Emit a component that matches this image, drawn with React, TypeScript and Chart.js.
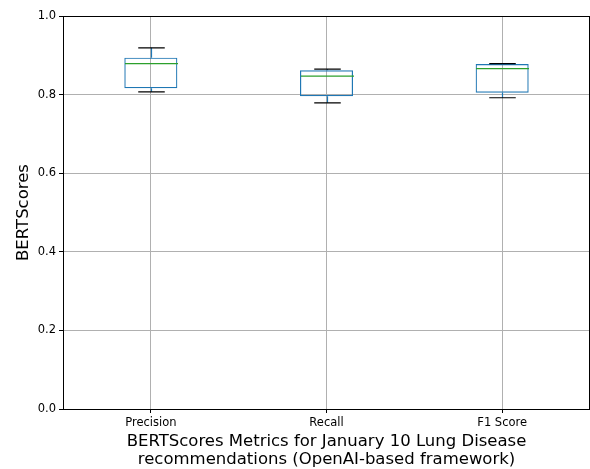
import React, { useEffect, useRef } from "react";
import { Chart, registerables } from "chart.js";

Chart.register(...registerables);

const categories = ["Precision", "Recall", "F1 Score"];
const whiskerLow = [0.807, 0.779, 0.792];
const q1 = [0.816, 0.796, 0.805];
const median = [0.879, 0.847, 0.866];
const q3 = [0.894, 0.862, 0.878];
const whiskerHigh = [0.919, 0.865, 0.879];
const yTicks = [0.0, 0.2, 0.4, 0.6, 0.8, 1.0];

const BLUE = "#1f77b4";
const GREEN = "#2ca02c";
const FONT = "'DejaVu Sans', sans-serif";

const boxPlugin = {
  id: "boxExtras",
  afterDatasetsDraw(chart: any) {
    const { ctx } = chart;
    const xs = chart.scales.x;
    const ys = chart.scales.y;
    const meta = chart.getDatasetMeta(0);
    ctx.save();
    categories.forEach((_, i) => {
      const x = Math.round(xs.getPixelForValue(i)) + 0.5;
      const el: any = meta.data[i];
      const w = el ? el.width : 53;
      const yLo = ys.getPixelForValue(whiskerLow[i]);
      const yQ1 = ys.getPixelForValue(q1[i]);
      const yQ3 = ys.getPixelForValue(q3[i]);
      const yHi = ys.getPixelForValue(whiskerHigh[i]);
      const yMed = ys.getPixelForValue(median[i]);
      ctx.lineWidth = 1.2;
      ctx.strokeStyle = BLUE;
      ctx.beginPath();
      ctx.moveTo(x, yQ1);
      ctx.lineTo(x, yLo);
      ctx.moveTo(x, yQ3);
      ctx.lineTo(x, yHi);
      ctx.stroke();
      ctx.strokeStyle = "#000";
      ctx.beginPath();
      ctx.moveTo(x - w / 4, yLo);
      ctx.lineTo(x + w / 4, yLo);
      ctx.moveTo(x - w / 4, yHi);
      ctx.lineTo(x + w / 4, yHi);
      ctx.stroke();
      ctx.strokeStyle = GREEN;
      ctx.beginPath();
      ctx.moveTo(x - w / 2, yMed);
      ctx.lineTo(x + w / 2, yMed);
      ctx.stroke();
    });
    const a = chart.chartArea;
    ctx.strokeStyle = "#000";
    ctx.lineWidth = 1;
    ctx.strokeRect(Math.round(a.left) + 0.5, Math.round(a.top) + 0.5, Math.round(a.right - a.left) - 1, Math.round(a.bottom - a.top));
    ctx.restore();
  },
};

export default function App() {
  const ref = useRef<HTMLCanvasElement>(null);
  useEffect(() => {
    document.body.style.margin = "0";
    const chart = new Chart(ref.current as HTMLCanvasElement, {
      type: "bar",
      data: {
        labels: categories,
        datasets: [
          {
            data: categories.map((_, i) => [q1[i], q3[i]]) as any,
            backgroundColor: "rgba(0,0,0,0)",
            borderColor: BLUE,
            borderWidth: 1.2,
            borderSkipped: false,
            barPercentage: 0.302,
            categoryPercentage: 1,
          },
        ],
      },
      options: {
        animation: false,
        responsive: false,
        devicePixelRatio: 1,
        layout: { padding: { top: 16, right: 0, left: 0, bottom: 0 } },
        plugins: { legend: { display: false }, tooltip: { enabled: false } },
        scales: {
          x: {
            afterFit(scale: any) {
              scale.height = 60;
            },
            grid: { offset: false, color: "#b0b0b0", tickColor: "#000", tickLength: 4 },
            border: { color: "#000" },
            ticks: { color: "#000", font: { family: FONT, size: 11.5 }, padding: 3 },
            title: {
              display: true,
              text: ["BERTScores Metrics for January 10 Lung Disease", "recommendations (OpenAI-based framework)"],
              color: "#000",
              font: { family: FONT, size: 16.5, lineHeight: 1.1 },
              padding: { top: 2, bottom: 0 },
            },
          },
          y: {
            min: 0,
            max: 1,
            afterFit(scale: any) {
              scale.width = 63;
            },
            afterBuildTicks(scale: any) {
              scale.ticks = yTicks.map((v) => ({ value: v }));
            },
            grid: { color: "#b0b0b0", tickColor: "#000", tickLength: 4 },
            border: { color: "#000" },
            ticks: {
              color: "#000",
              font: { family: FONT, size: 11.5 },
              padding: 3,
              callback: (v: any) => Number(v).toFixed(1),
            },
            title: {
              display: true,
              text: "BERTScores",
              color: "#000",
              font: { family: FONT, size: 16.5 },
              padding: { top: 14, bottom: 0 },
            },
          },
        },
      },
      plugins: [boxPlugin],
    });
    return () => chart.destroy();
  }, []);
  return <canvas ref={ref} width={590} height={469} style={{ display: "block", width: 590, height: 469 }} />;
}
